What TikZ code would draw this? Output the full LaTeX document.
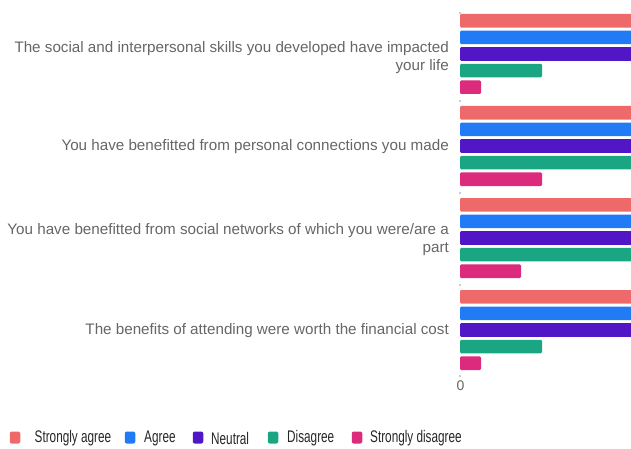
\documentclass[tikz,border=0pt]{standalone}
\usepackage{fontspec}
\setmainfont{Liberation Sans}
\newfontfamily\legfont[FakeStretch=0.7]{Liberation Sans}
\definecolor{cSA}{HTML}{EE6A6A}
\definecolor{cA}{HTML}{207BF4}
\definecolor{cN}{HTML}{5117C6}
\definecolor{cD}{HTML}{1BA683}
\definecolor{cSD}{HTML}{DC2A7C}
\definecolor{txt}{HTML}{666666}
\definecolor{tick}{HTML}{CCCCCC}
\tikzset{
  bar/.style={rounded corners=1.2pt},
  qlabel/.style={anchor=east, align=right, text=txt, font=\fontsize{15.2}{18}\selectfont, inner sep=0pt},
  legsq/.style={rounded corners=2pt, minimum width=10.5pt, minimum height=12pt, inner sep=0pt},
  legtxt/.style={anchor=west, inner sep=0pt, text=black!85, font=\legfont\fontsize{16.8}{18}\selectfont},
}
\begin{document}
\begin{tikzpicture}[x=1pt,y=-1pt]
\clip (0,0) rectangle (631,449);
% axis ticks
\foreach \y in {12,100,192,284,375} \fill[tick] (459.3,\y) rectangle (460.8,\y+2);
% bars: group starts
\foreach \g/\lenD/\lenSD [count=\i] in {14/82/21, 106/700/82, 198/700/61, 290/82/21} {
  \fill[bar, cSA] (460,\g) rectangle (650,\g+13.6);
  \fill[bar, cA]  (460,\g+16.6) rectangle (650,\g+30.2);
  \fill[bar, cN]  (460,\g+33.2) rectangle (650,\g+46.8);
  \fill[bar, cD]  (460,\g+49.8) rectangle (460+\lenD,\g+63.4);
  \fill[bar, cSD] (460,\g+66.4) rectangle (460+\lenSD,\g+80);
}
\node[qlabel] (q1) at (449,57.5) {The social and interpersonal skills you developed have impacted\\your life};
\node[qlabel] (q2) at (449,147) {You have benefitted from personal connections you made};
\node[qlabel] (q3) at (449,239.5) {You have benefitted from social networks of which you were/are a\\part};
\node[qlabel] (q4) at (449,331) {The benefits of attending were worth the financial cost};
\node[text=txt, font=\fontsize{14}{15}\selectfont, inner sep=0pt] (zero) at (460.5,386) {0};
% legend
\node[legsq, fill=cSA] (l1) at (15,437.5) {};
\node[legtxt] (t1) at (34.5,438.5) {Strongly agree};
\node[legsq, fill=cA] (l2) at (130,437.5) {};
\node[legtxt] (t2) at (144,438.5) {Agree};
\node[legsq, fill=cN] (l3) at (198,437.5) {};
\node[legtxt] (t3) at (211,438.5) {Neutral};
\node[legsq, fill=cD] (l4) at (273,437.5) {};
\node[legtxt] (t4) at (287,438.5) {Disagree};
\node[legsq, fill=cSD] (l5) at (357,437.5) {};
\node[legtxt] (t5) at (370,438.5) {Strongly disagree};
\end{tikzpicture}
\end{document}
